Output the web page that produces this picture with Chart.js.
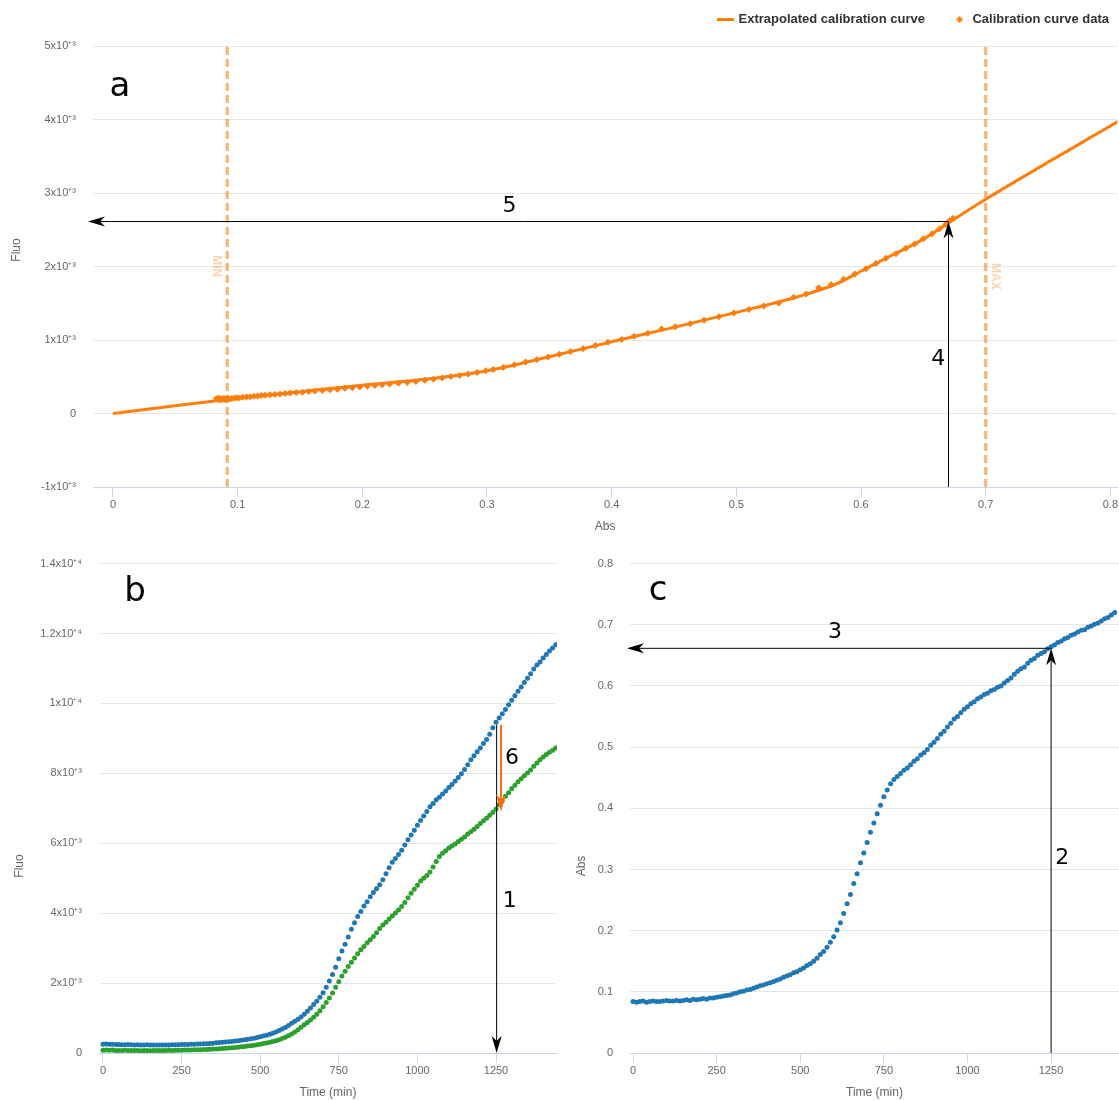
<!DOCTYPE html>
<html>
<head>
<meta charset="utf-8">
<title>Calibration</title>
<script src="https://cdn.jsdelivr.net/npm/chart.js@4.4.1/dist/chart.umd.min.js"></script>
<style>
html, body { margin: 0; padding: 0; background: #fff; width: 1119px; height: 1101px; overflow: hidden; }
.box { position: absolute; }
#boxA { left: 0; top: 0; }
#boxB { left: 0; top: 540px; }
#boxC { left: 565px; top: 540px; }
</style>
</head>
<body>
<div class="box" id="boxA"><canvas id="chartA" width="1119" height="540"></canvas></div>
<div class="box" id="boxB"><canvas id="chartB" width="560" height="561"></canvas></div>
<div class="box" id="boxC"><canvas id="chartC" width="554" height="561"></canvas></div>
<script>
const orange = '#ff7f0e';
const blue = '#1f77b4';
const green = '#2ca02c';

// panel a : calibration curve (Abs -> Fluo)
const calAbs = [0.083,0.084,0.085,0.086,0.087,0.088,0.089,0.090,0.091,0.092,
  0.093,0.095,0.097,0.099,0.101,0.104,0.107,0.110,0.113,0.116,
  0.119,0.122,0.126,0.130,0.134,0.138,0.142,0.147,0.152,0.157,
  0.162,0.168,0.174,0.180,0.186,0.192,0.198,0.204,0.210,0.216,
  0.222,0.229,0.236,0.243,0.250,0.257,0.264,0.271,0.278,0.285,
  0.292,0.299,0.305,0.313,0.322,0.331,0.340,0.349,0.358,0.367,
  0.377,0.387,0.397,0.408,0.418,0.429,0.440,0.451,0.463,0.474,
  0.486,0.498,0.510,0.522,0.534,0.546,0.556,0.566,0.576,0.586,
  0.595,0.604,0.612,0.620,0.628,0.636,0.643,0.650,0.657,0.663,
  0.668,0.671,0.674];
const calFluo = [205,190,212,183,200,192,207,186,198,210,
  195,204,208,213,211,220,224,229,235,238,
  245,248,254,260,265,272,278,285,290,299,
  305,314,322,331,342,352,362,370,382,392,
  401,412,422,437,451,466,484,502,518,537,
  558,580,598,626,662,701,735,770,806,845,
  880,925,968,1008,1050,1092,1150,1180,1222,1270,
  1318,1366,1416,1462,1505,1580,1625,1712,1756,1828,
  1898,1968,2040,2112,2175,2248,2305,2378,2446,2512,
  2575,2622,2658];
const curveAbs = [0,0.0917,0.12,0.15,0.2,0.25,0.3,0.35,0.4,0.45,0.5,0.55,0.58,0.6,0.62,0.65,0.67,0.7,0.81];
const curveFluo = [0,192,242,297,385,465,582,772,976,1172,1376,1592,1762,1935,2112,2372,2592,2915,4010];
const absMin = 0.0917;
const absMax = 0.7;
const aXTicks = [0,0.1,0.2,0.3,0.4,0.5,0.6,0.7,0.8];
const aXLabels = ['0','0.1','0.2','0.3','0.4','0.5','0.6','0.7','0.8'];
const aYTicks = [-1000,0,1000,2000,3000,4000,5000];
const aYLabels = ['-1x10⁺³','0','1x10⁺³','2x10⁺³','3x10⁺³','4x10⁺³','5x10⁺³'];

// panels b and c : time courses
const times = [0,10,20,30,40,50,60,70,80,90,100,110,120,130,140,150,160,170,180,190,
  200,210,220,230,240,250,260,270,280,290,300,310,320,330,340,350,360,370,380,390,
  400,410,420,430,440,450,460,470,480,490,500,510,520,530,540,550,560,570,580,590,
  600,610,620,630,640,650,660,670,680,690,700,710,720,730,740,750,760,770,780,790,
  800,810,820,830,840,850,860,870,880,890,900,910,920,930,940,950,960,970,980,990,
  1000,1010,1020,1030,1040,1050,1060,1070,1080,1090,1100,1110,1120,1130,1140,1150,1160,1170,1180,1190,
  1200,1210,1220,1230,1240,1250,1260,1270,1280,1290,1300,1310,1320,1330,1340,1350,1360,1370,1380,1390,
  1400,1410,1420,1430,1440];
const fluoBlue = [250,256,247,253,244,241,238,236,241,234,232,237,229,228,233,230,227,226,231,228,
  232,229,234,236,238,241,242,246,248,251,255,259,262,268,274,282,290,298,305,313,
  321,330,341,352,365,378,392,406,421,441,462,485,509,536,566,601,641,684,731,788,
  850,905,962,1031,1108,1197,1290,1388,1482,1592,1722,1878,2061,2248,2452,2698,2921,3112,3318,3541,
  3728,3902,4048,4203,4330,4468,4592,4701,4812,4958,5128,5302,5458,5562,5681,5802,5948,6102,6238,6372,
  6518,6652,6781,6908,7042,7138,7242,7318,7412,7498,7592,7681,7778,7882,7991,8112,8248,8392,8502,8618,
  8722,8851,8968,9121,9302,9462,9581,9702,9828,9962,10088,10221,10348,10472,10598,10722,10851,10988,11102,11188,
  11302,11398,11502,11588,11682];
const fluoGreen = [80,86,77,83,75,74,71,76,69,72,68,71,65,69,70,66,69,71,72,70,
  74,77,75,78,81,82,85,86,89,90,93,95,99,102,107,111,116,122,128,135,
  141,148,157,165,176,186,197,209,223,237,252,269,286,306,329,353,381,413,449,494,
  544,601,668,739,808,871,942,1021,1108,1212,1321,1442,1571,1719,1882,2038,2202,2341,2472,2598,
  2721,2838,2952,3048,3152,3241,3332,3441,3558,3662,3741,3832,3918,4002,4088,4192,4308,4442,4568,4682,
  4798,4918,5002,5081,5178,5322,5478,5618,5712,5788,5862,5918,5982,6048,6112,6178,6262,6328,6402,6478,
  6562,6641,6718,6802,6888,6978,7102,7218,7342,7448,7562,7658,7762,7848,7932,8012,8098,8202,8298,8392,
  8468,8542,8602,8658,8722];
const absBlue = [0.084,0.083,0.084,0.085,0.083,0.084,0.085,0.084,0.084,0.085,0.086,0.085,0.085,0.086,0.085,0.086,0.087,0.086,0.088,0.087,
  0.088,0.089,0.088,0.090,0.090,0.091,0.092,0.093,0.094,0.095,0.097,0.098,0.100,0.101,0.103,0.104,0.106,0.108,0.110,0.111,
  0.113,0.115,0.117,0.119,0.121,0.124,0.126,0.128,0.131,0.133,0.136,0.139,0.143,0.146,0.150,0.155,0.161,0.166,0.173,0.181,
  0.190,0.201,0.213,0.228,0.244,0.259,0.277,0.293,0.311,0.327,0.344,0.361,0.376,0.391,0.405,0.419,0.430,0.440,0.447,0.452,
  0.457,0.462,0.466,0.471,0.477,0.481,0.487,0.491,0.496,0.503,0.508,0.514,0.521,0.526,0.533,0.539,0.546,0.550,0.556,0.562,
  0.566,0.571,0.574,0.579,0.582,0.586,0.588,0.592,0.594,0.598,0.600,0.605,0.609,0.613,0.619,0.624,0.628,0.631,0.637,0.642,
  0.645,0.650,0.653,0.656,0.661,0.664,0.667,0.671,0.673,0.677,0.679,0.683,0.685,0.688,0.691,0.692,0.696,0.698,0.701,0.703,
  0.706,0.710,0.712,0.716,0.720];
const timeTicks = [0,250,500,750,1000,1250];
const timeLabels = ['0','250','500','750','1000','1250'];
const bYTicks = [0,2000,4000,6000,8000,10000,12000,14000];
const bYLabels = ['0','2x10⁺³','4x10⁺³','6x10⁺³','8x10⁺³','1x10⁺⁴','1.2x10⁺⁴','1.4x10⁺⁴'];
const cYTicks = [0,0.1,0.2,0.3,0.4,0.5,0.6,0.7,0.8];
const cYLabels = ['0','0.1','0.2','0.3','0.4','0.5','0.6','0.7','0.8'];

Chart.defaults.font.family = '"Liberation Sans", Arial, sans-serif';
Chart.defaults.font.size = 11;
Chart.defaults.color = '#666';

function pts(xs, ys) {
  return xs.map((x, i) => ({x: x, y: ys[i]}));
}

function xAxis(min, max, ticks, labels, title, height, titlePad) {
  return {
    type: 'linear', min: min, max: max,
    afterBuildTicks: s => { s.ticks = ticks.map(v => ({value: v})); },
    afterFit: s => { s.height = height; },
    grid: { drawOnChartArea: false, tickLength: 10, tickColor: '#ccd6eb', color: '#ccd6eb' },
    border: { color: '#ccd6eb' },
    ticks: { padding: 1, maxRotation: 0, autoSkip: false, color: '#666', callback: (v, i) => labels[i] },
    title: { display: true, text: title, color: '#666', font: {size: 12}, padding: {top: 0, bottom: titlePad} }
  };
}

function yAxis(min, max, ticks, labels, width) {
  return {
    type: 'linear', min: min, max: max,
    afterBuildTicks: s => { s.ticks = ticks.map(v => ({value: v})); },
    afterFit: s => { s.width = width; },
    grid: { color: '#e6e6e6', drawTicks: false },
    border: { display: false },
    ticks: { padding: 17, autoSkip: false, color: '#666', callback: (v, i) => labels[i] }
  };
}

// arrows, panel letters and rotated texts, positioned through the scales
function notes(spec) {
  return {
    id: 'notes',
    afterDatasetsDraw(chart) {
      const ctx = chart.ctx, xs = chart.scales.x, ys = chart.scales.y;
      (spec.arrows || []).forEach(a => {
        const x1 = xs.getPixelForValue(a.x1), y1 = ys.getPixelForValue(a.y1);
        const x2 = xs.getPixelForValue(a.x2), y2 = ys.getPixelForValue(a.y2);
        const ang = Math.atan2(y2 - y1, x2 - x1);
        ctx.save();
        ctx.strokeStyle = a.color || '#000';
        ctx.fillStyle = a.color || '#000';
        ctx.lineWidth = a.width || 1;
        ctx.beginPath();
        ctx.moveTo(x1, y1);
        ctx.lineTo(x2 - Math.cos(ang) * 10, y2 - Math.sin(ang) * 10);
        ctx.stroke();
        ctx.translate(x2, y2);
        ctx.rotate(ang);
        ctx.beginPath();
        ctx.moveTo(0, 0);
        ctx.lineTo(-17, -5);
        ctx.lineTo(-12, 0);
        ctx.lineTo(-17, 5);
        ctx.closePath();
        ctx.fill();
        ctx.restore();
      });
      (spec.texts || []).forEach(t => {
        ctx.save();
        ctx.font = t.font || '22px "DejaVu Sans"';
        ctx.fillStyle = t.color || '#000';
        ctx.textAlign = 'center';
        ctx.textBaseline = 'middle';
        const px = t.px !== undefined ? t.px : xs.getPixelForValue(t.x);
        const py = t.py !== undefined ? t.py : ys.getPixelForValue(t.y);
        ctx.translate(px, py);
        if (t.rot) ctx.rotate(t.rot);
        ctx.fillText(t.text, 0, 0);
        ctx.restore();
      });
    }
  };
}

const legendSpace = {
  id: 'legendSpace',
  beforeInit(chart) {
    const fit = chart.legend.fit;
    chart.legend.fit = function () { fit.call(this); this.height += 10; };
  }
};

const diamond = document.createElement('canvas');
diamond.width = 8; diamond.height = 8;
const dctx = diamond.getContext('2d');
dctx.fillStyle = orange;
dctx.beginPath();
dctx.moveTo(4, 0.5); dctx.lineTo(7.5, 4); dctx.lineTo(4, 7.5); dctx.lineTo(0.5, 4);
dctx.closePath();
dctx.fill();

const minMaxColor = 'rgba(255,127,14,0.62)';
const minMaxText = 'rgba(255,127,14,0.35)';

// ---- chart a
new Chart(document.getElementById('chartA'), {
  type: 'scatter',
  data: {
    datasets: [
      { label: 'Calibration curve data', data: pts(calAbs, calFluo), pointStyle: 'rectRot', pointRadius: 3.5,
        backgroundColor: orange, borderWidth: 0, order: 0 },
      { label: 'Extrapolated calibration curve', data: pts(curveAbs, curveFluo), showLine: true, pointRadius: 0,
        borderColor: orange, backgroundColor: orange, borderWidth: 3, cubicInterpolationMode: 'monotone', order: 1 },
      { label: 'MIN', data: [{x: absMin, y: -1000}, {x: absMin, y: 5000}], showLine: true, pointRadius: 0,
        borderColor: minMaxColor, borderWidth: 3, borderDash: [8, 4], order: 2 },
      { label: 'MAX', data: [{x: absMax, y: -1000}, {x: absMax, y: 5000}], showLine: true, pointRadius: 0,
        borderColor: minMaxColor, borderWidth: 3, borderDash: [8, 4], order: 2 }
    ]
  },
  options: {
    responsive: false, animation: false, events: [],
    layout: { autoPadding: false, padding: { top: 3, left: 0, right: 0, bottom: 0 } },
    scales: {
      x: xAxis(-0.016, 0.8056, aXTicks, aXLabels, 'Abs', 53, 6),
      y: yAxis(-1000, 5000, aYTicks, aYLabels, 93)
    },
    plugins: {
      tooltip: { enabled: false },
      legend: {
        position: 'top', align: 'end',
        labels: {
          usePointStyle: true, boxHeight: 12, padding: 10, color: '#333',
          font: { size: 13, weight: 'bold' },
          generateLabels: () => [
            { text: 'Extrapolated calibration curve     ', pointStyle: 'line', strokeStyle: orange, fillStyle: orange,
              lineWidth: 3, hidden: false, datasetIndex: 1, fontColor: '#333' },
            { text: 'Calibration curve data', pointStyle: diamond, strokeStyle: orange, fillStyle: orange,
              lineWidth: 0, hidden: false, datasetIndex: 0, fontColor: '#333' }
          ]
        }
      }
    }
  },
  plugins: [legendSpace, notes({
    arrows: [
      { x1: 0.6702, y1: -1000, x2: 0.6702, y2: 2612 },
      { x1: 0.6702, y1: 2612, x2: -0.020, y2: 2612 }
    ],
    texts: [
      { text: 'a', x: 0.0056, y: 4441, font: '34px "DejaVu Sans"' },
      { text: '5', x: 0.318, y: 2820 },
      { text: '4', x: 0.662, y: 735 },
      { text: 'MIN', x: 0.0833, y: 2003, rot: Math.PI / 2, color: minMaxText, font: 'bold 12px "Liberation Sans"' },
      { text: 'MAX', x: 0.7078, y: 1866, rot: Math.PI / 2, color: minMaxText, font: 'bold 12px "Liberation Sans"' },
      { text: 'Fluo', px: 17, py: 250, rot: -Math.PI / 2, color: '#666', font: '12px "Liberation Sans"' }
    ]
  })]
});

// ---- chart b
new Chart(document.getElementById('chartB'), {
  type: 'scatter',
  data: {
    datasets: [
      { label: 'Fluo 1', data: pts(times, fluoBlue), pointRadius: 2.5, backgroundColor: blue, borderWidth: 0 },
      { label: 'Fluo 2', data: pts(times, fluoGreen), pointRadius: 2.5, backgroundColor: green, borderWidth: 0 }
    ]
  },
  options: {
    responsive: false, animation: false, events: [],
    layout: { autoPadding: false, padding: { top: 10, left: 0, right: 3, bottom: 0 } },
    scales: {
      x: xAxis(-12.7, 1444, timeTicks, timeLabels, 'Time (min)', 48, 1),
      y: yAxis(0, 14000, bYTicks, bYLabels, 99)
    },
    plugins: { legend: { display: false }, tooltip: { enabled: false } }
  },
  plugins: [notes({
    arrows: [
      { x1: 1252, y1: 9390, x2: 1252, y2: 0 },
      { x1: 1266, y1: 9390, x2: 1266, y2: 6910, color: '#ff6a10', width: 2 }
    ],
    texts: [
      { text: 'b', x: 102, y: 13175, font: '34px "DejaVu Sans"' },
      { text: '6', x: 1301, y: 8440 },
      { text: '1', x: 1294, y: 4345 },
      { text: 'Fluo', px: 20, py: 326, rot: -Math.PI / 2, color: '#666', font: '12px "Liberation Sans"' }
    ]
  })]
});

// ---- chart c
new Chart(document.getElementById('chartC'), {
  type: 'scatter',
  data: {
    datasets: [
      { label: 'Abs', data: pts(times, absBlue), pointRadius: 2.5, backgroundColor: blue, borderWidth: 0 }
    ]
  },
  options: {
    responsive: false, animation: false, events: [],
    layout: { autoPadding: false, padding: { top: 10, left: 0, right: 0, bottom: 0 } },
    scales: {
      x: xAxis(-9, 1453, timeTicks, timeLabels, 'Time (min)', 48, 1),
      y: yAxis(0, 0.8, cYTicks, cYLabels, 65)
    },
    plugins: { legend: { display: false }, tooltip: { enabled: false } }
  },
  plugins: [notes({
    arrows: [
      { x1: 1250, y1: 0, x2: 1250, y2: 0.6615 },
      { x1: 1250, y1: 0.6615, x2: -18, y2: 0.6615 }
    ],
    texts: [
      { text: 'c', x: 75, y: 0.755, font: '34px "DejaVu Sans"' },
      { text: '3', x: 604, y: 0.687 },
      { text: '2', x: 1283, y: 0.318 },
      { text: 'Abs', px: 17, py: 326, rot: -Math.PI / 2, color: '#666', font: '12px "Liberation Sans"' }
    ]
  })]
});
</script>
</body>
</html>
